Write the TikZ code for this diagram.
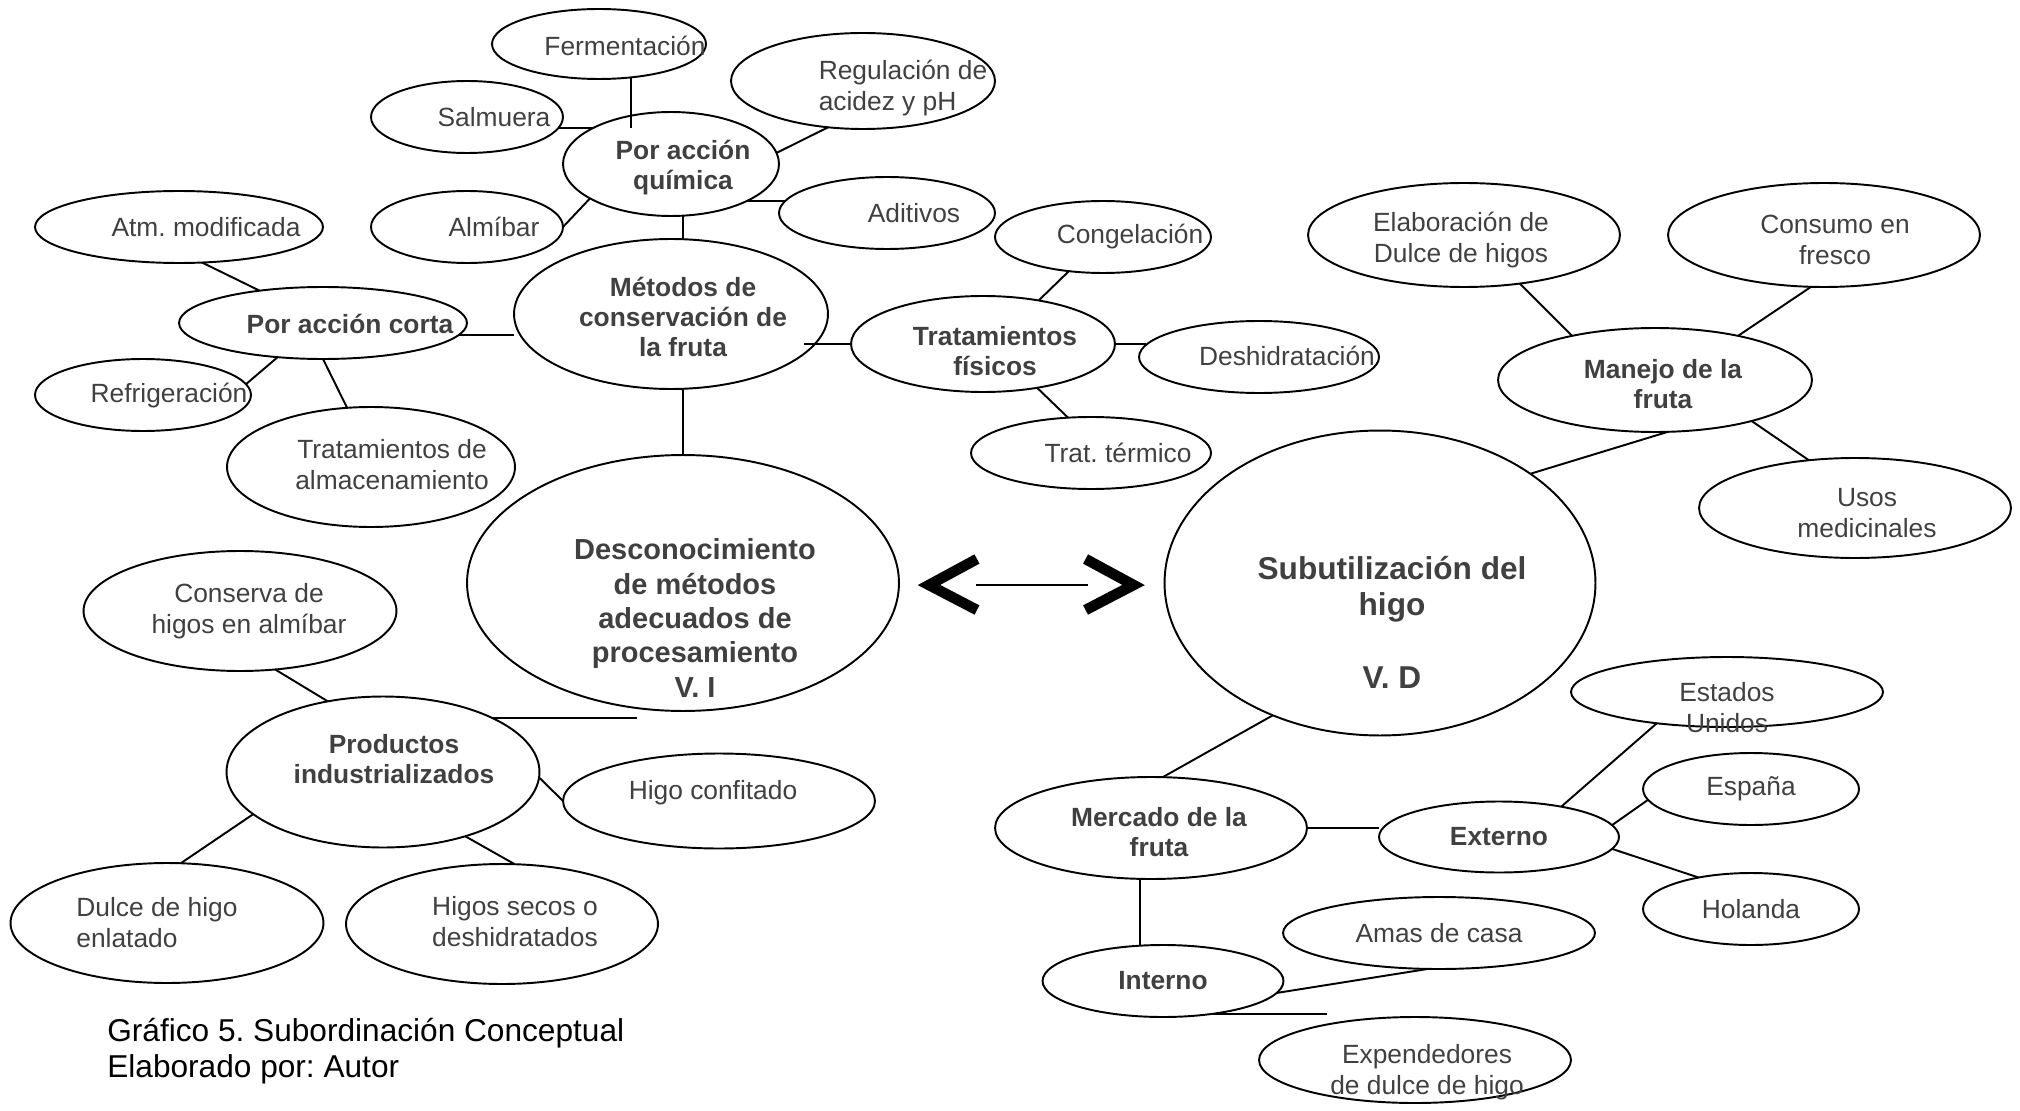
\documentclass[tikz,border=0pt]{standalone}
\usepackage{fontspec}
\setmainfont{Liberation Sans}
\usepackage{tikz}
\usetikzlibrary{shapes.geometric}
\definecolor{txtgray}{RGB}{64,64,64}
\frenchspacing

\begin{document}
\begin{tikzpicture}[
  x=0.02cm, y=-0.02cm,
  oval/.style={ellipse, draw, line width=1.1pt, inner sep=0pt, outer sep=0pt},
  txt/.style={font=\fontsize{15}{17.6}\selectfont, text=txtgray,
              align=center, inner sep=0pt},
  btxt/.style={font=\fontsize{15}{17}\selectfont\bfseries, text=txtgray,
               align=center, inner sep=0pt},
  link/.style={line width=1.1pt},
  chev/.style={line width=6pt},
  caption/.style={font=\fontsize{18}{20.4}\selectfont, align=left, inner sep=0pt}
]
  \useasboundingbox (0,0) rectangle (2020,1111);

  %% --- Centre: the two variables ---
  \node[oval, minimum width=8.64cm, minimum height=5.12cm,
        label={[btxt, font=\fontsize{16.5}{19.5}\selectfont\bfseries, shift={(12,35)}]center:Desconocimiento\\de métodos\\adecuados de\\procesamiento\\V. I}]
    (desc) at (683,583) {};
  \node[oval, minimum width=8.62cm, minimum height=6.10cm,
        label={[btxt, font=\fontsize{18}{20.7}\selectfont\bfseries, shift={(12,39)}]center:Subutilización del\\higo\\\mbox{}\\V. D}]
    (sub) at (1380,583) {};

  %% --- Conservation methods ---
  \node[oval, minimum width=6.28cm, minimum height=3.00cm,
        label={[btxt, shift={(12,3)}]center:Métodos de\\conservación de\\la fruta}]
    (metodos) at (671,314) {};
  \node[oval, minimum width=4.32cm, minimum height=2.08cm,
        label={[btxt, shift={(12,4)}]center:Por acción\\química}]
    (quim) at (671,164) {};
  \node[oval, minimum width=4.28cm, minimum height=1.40cm,
        label={[txt, shift={(26,2)}]center:Fermentación}]
    (ferm) at (599,44) {};
  \node[oval, minimum width=3.84cm, minimum height=1.44cm,
        label={[txt, shift={(27,0)}]center:Salmuera}]
    (salm) at (467,117) {};
  \node[oval, minimum width=3.84cm, minimum height=1.44cm,
        label={[txt, shift={(27,0)}]center:Almíbar}]
    (almi) at (467,227) {};
  \node[oval, minimum width=5.28cm, minimum height=1.92cm,
        label={[txt, align=left, shift={(40,7)}]center:Regulación de\\acidez y pH}]
    (regu) at (863,81) {};
  \node[oval, minimum width=4.32cm, minimum height=1.44cm,
        label={[txt, shift={(27,0)}]center:Aditivos}]
    (adit) at (887,213) {};

  \node[oval, minimum width=5.76cm, minimum height=1.44cm,
        label={[btxt, shift={(27,1)}]center:Por acción corta}]
    (corta) at (323,323) {};
  \node[oval, minimum width=5.76cm, minimum height=1.44cm,
        label={[txt, shift={(27,0)}]center:Atm. modificada}]
    (atm) at (179,227) {};
  \node[oval, minimum width=4.32cm, minimum height=1.44cm,
        label={[txt, shift={(26,1)}]center:Refrigeración}]
    (refr) at (143,395) {};
  \node[oval, minimum width=5.76cm, minimum height=2.40cm,
        label={[txt, shift={(21,-2)}]center:Tratamientos de\\almacenamiento}]
    (alma) at (371,467) {};

  \node[oval, minimum width=5.28cm, minimum height=1.92cm,
        label={[btxt, shift={(12,7)}]center:Tratamientos\\físicos}]
    (fisi) at (983,344) {};
  \node[oval, minimum width=4.32cm, minimum height=1.44cm,
        label={[txt, shift={(27,0)}]center:Congelación}]
    (cong) at (1103,237) {};
  \node[oval, minimum width=4.80cm, minimum height=1.44cm,
        label={[txt, shift={(28,-1)}]center:Deshidratación}]
    (desh) at (1259,357) {};
  \node[oval, minimum width=4.80cm, minimum height=1.44cm,
        label={[txt, shift={(27,0)}]center:Trat. térmico}]
    (term) at (1091,453) {};

  %% --- Handling of the fruit ---
  \node[oval, minimum width=6.28cm, minimum height=2.08cm,
        label={[btxt, shift={(8,4)}]center:Manejo de la\\fruta}]
    (manejo) at (1655,380) {};
  \node[oval, minimum width=6.24cm, minimum height=2.08cm,
        label={[txt, shift={(-3,5)}]center:Elaboración de\\Dulce de higos}]
    (elab) at (1464,235) {};
  \node[oval, minimum width=6.24cm, minimum height=2.08cm,
        label={[txt, shift={(11,5)}]center:Consumo en\\fresco}]
    (cons) at (1824,235) {};
  \node[oval, minimum width=6.24cm, minimum height=2.00cm,
        label={[txt, shift={(12,5)}]center:Usos\\medicinales}]
    (usos) at (1855,508) {};

  %% --- Industrial products ---
  \node[oval, minimum width=6.26cm, minimum height=3.02cm,
        label={[btxt, shift={(11,-13)}]center:Productos\\industrializados}]
    (prod) at (383,772) {};
  \node[oval, minimum width=6.26cm, minimum height=2.40cm,
        label={[txt, shift={(9,0)}]center:Conserva de\\higos en almíbar}]
    (conserva) at (240,611) {};
  \node[oval, minimum width=6.26cm, minimum height=2.40cm,
        label={[txt, align=left, shift={(-10,0)}]center:Dulce de higo\\enlatado}]
    (dulce) at (167,923) {};
  \node[oval, minimum width=6.24cm, minimum height=2.40cm,
        label={[txt, shift={(13,-2)}]center:Higos secos o\\deshidratados}]
    (secos) at (502,924) {};
  \node[oval, minimum width=6.24cm, minimum height=1.90cm,
        label={[txt, shift={(-6,-8)}]center:Higo confitado}]
    (confit) at (719,801) {};

  %% --- Market ---
  \node[oval, minimum width=6.24cm, minimum height=2.04cm,
        label={[btxt, shift={(8,4)}]center:Mercado de la\\fruta}]
    (merc) at (1151,828) {};
  \node[oval, minimum width=4.80cm, minimum height=1.42cm,
        label={[btxt]center:Externo}]
    (ext) at (1499,837) {};
  \node[oval, minimum width=4.82cm, minimum height=1.44cm,
        label={[btxt]center:Interno}]
    (inte) at (1163,981) {};
  \node[oval, minimum width=6.24cm, minimum height=1.40cm,
        label={[txt, shift={(0,16)}]center:Estados\\Unidos}]
    (eeuu) at (1727,692) {};
  \node[oval, minimum width=4.32cm, minimum height=1.44cm,
        label={[txt]center:España}]
    (espa) at (1751,789) {};
  \node[oval, minimum width=4.32cm, minimum height=1.44cm,
        label={[txt]center:Holanda}]
    (hola) at (1751,909) {};
  \node[oval, minimum width=6.24cm, minimum height=1.44cm,
        label={[txt]center:Amas de casa}]
    (amas) at (1439,933) {};
  \node[oval, minimum width=6.24cm, minimum height=1.72cm,
        label={[txt, shift={(12,12)}]center:Expendedores\\de dulce de higo}]
    (expe) at (1415,1060) {};

  %% --- Caption ---
  \node[caption, anchor=west] (cap) at (107,1051)
    {Gráfico 5. Subordinación Conceptual\\Elaborado por: Autor};

  %% --- Connectors ---
  \draw[link] (atm.-57) -- (corta.153);
  \draw[link] (corta.217) -- (refr.6);
  \draw[link] (corta.south) -- (alma.112);
  \draw[link] (corta.-5) -- (corta.-5 -| metodos.west);
  \draw[link] (quim.-77) -- (quim.-77 |- metodos.north);
  \draw[link] (desc.north) -- (desc.north |- metodos.south);
  \draw[link, shorten >=-0.2cm] (fisi.west) -- (fisi.west -| metodos.-12);
  \draw[link] (salm.-7) -- (salm.-7 -| quim.155);
  \draw[link, shorten >=-0.32cm] (ferm.-46) -- (ferm.-46 |- quim.north);
  \draw[link] (quim.203) -- (almi.east);
  \draw[link] (quim.6) -- (regu.233);
  \draw[link] (quim.-26) -- (quim.-26 -| adit.173);

  \draw[link] (fisi.38) -- (cong.225);
  \draw[link] (fisi.east) -- (fisi.east -| desh.174);
  \draw[link] (fisi.-39) -- (term.123);

  \draw[link] (manejo.152) -- (elab.-41);
  \draw[link] (manejo.28) -- (cons.256);
  \draw[link] (manejo.-23) -- (usos.134);
  \draw[link] (manejo.-76) -- (sub.36);

  \draw[link] (conserva.-59) -- (prod.128);
  \draw[link] (prod.198) -- (dulce.77);
  \draw[link] (prod.-38) -- (secos.78);
  \draw[link] (prod.-2) -- (confit.west);
  \draw[link] (prod.26) -- (prod.26 -| desc.-110);

  \draw[link] (sub.231) -- (merc.77);
  \draw[link] (merc.east) -- (merc.east -| ext.west);
  \draw[link] (inte.123) -- (inte.123 |- merc.south);
  \draw[link] (ext.26) -- (eeuu.204);
  \draw[link] (ext.6) -- (espa.186);
  \draw[link] (ext.-6) -- (hola.149);
  \draw[link] (inte.-6) -- (amas.253);
  \draw[link] (inte.-34) -- (inte.-34 -| expe.158);

  %% desc <--> sub
  \draw[link] ([shift={(77,2)}]desc.east) -- ([shift={(-77,2)}]sub.west);
  \draw[chev] ([shift={(78,-24)}]desc.east) -- ([shift={(30,2)}]desc.east)
    -- ([shift={(78,27)}]desc.east);
  \draw[chev] ([shift={(-79,-24)}]sub.west) -- ([shift={(-31,2)}]sub.west)
    -- ([shift={(-79,27)}]sub.west);

\end{tikzpicture}
\end{document}
